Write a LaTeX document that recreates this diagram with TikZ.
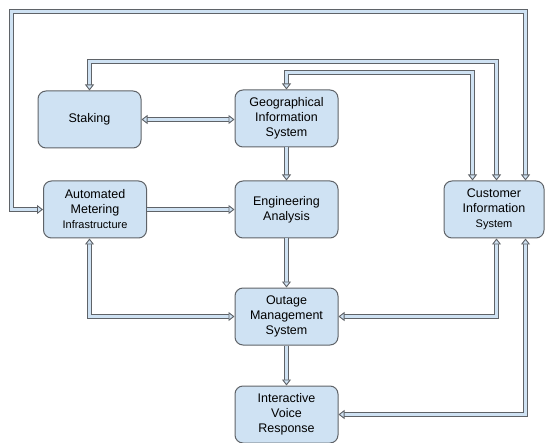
\documentclass[tikz,border=0pt]{standalone}
\usepackage{fontspec}
\setmainfont{Liberation Sans}
\usetikzlibrary{arrows.meta}

\definecolor{boxfill}{HTML}{CFE2F3}
\definecolor{boxline}{HTML}{5F6368}

\tikzset{
    sysbox/.style={draw=boxline, fill=boxfill, line width=1pt, rounded corners=8pt,
        minimum width=103pt, minimum height=57pt, align=center, inner sep=2pt},
    pipe/.style={draw=boxline, line width=1pt, double=boxfill, double distance=3pt,
        -{Triangle[width=9pt, length=6pt, line width=0.9pt, fill=boxfill]}},
    pipe both/.style={pipe,
        {Triangle[width=9pt, length=6pt, line width=0.9pt, fill=boxfill]}-{Triangle[width=9pt, length=6pt, line width=0.9pt, fill=boxfill]}},
}

\begin{document}
\begin{tikzpicture}[x=1pt, y=-1pt, font=\fontsize{12.5}{15}\selectfont]

        \def\smalltext{\fontsize{11}{15}\selectfont}

        \useasboundingbox (0, 0) rectangle (545, 443);

        % boxes
        \node[sysbox] (staking) at (89.5, 119.5) {Staking};
        \node[sysbox] (gis) at (286.5, 118.5) {Geographical\\Information\\System};
        \node[sysbox] (ami) at (95, 209.5) {Automated\\Metering\\{\smalltext Infrastructure}};
        \node[sysbox] (ea) at (286.5, 209.5) {Engineering\\Analysis};
        \node[sysbox, minimum width=100pt] (cis) at (494, 209.5) {Customer\\Information\\{\smalltext System}};
        \node[sysbox] (oms) at (286.5, 316.5) {Outage\\Management\\System};
        \node[sysbox] (ivr) at (286.5, 414.5) {Interactive\\Voice\\Response};

        % corners of the loops over the top
        \coordinate (ringTL) at (11.5, 11.5);
        \coordinate (ringS) at (89.5, 61.5);
        \coordinate (ringG) at (286.5, 72.5);

        % straight links
        \draw[pipe both] (staking.east) -- (staking.east -| gis.west);
        \draw[pipe] (gis.south) -- (ea.north);
        \draw[pipe] (ami.east) -- (ea.west);
        \draw[pipe] (ea.south) -- (oms.north);
        \draw[pipe] (oms.south) -- (ivr.north);

        % loops to the customer information system
        \draw[pipe both] ([xshift=31.5pt]cis.north) |- (ringTL) |- (ami.west);
        \draw[pipe both] ([xshift=2.5pt]cis.north) |- (ringS) -- (staking.north);
        \draw[pipe both] ([xshift=-21.5pt]cis.north) |- (ringG) -- (gis.north);

        % links below
        \draw[pipe both] ([xshift=-5.5pt]ami.south) |- (oms.west);
        \draw[pipe both] ([xshift=2.5pt]cis.south) |- (oms.east);
        \draw[pipe both] ([xshift=31.5pt]cis.south) |- (ivr.east);

    \end{tikzpicture}
\end{document}
